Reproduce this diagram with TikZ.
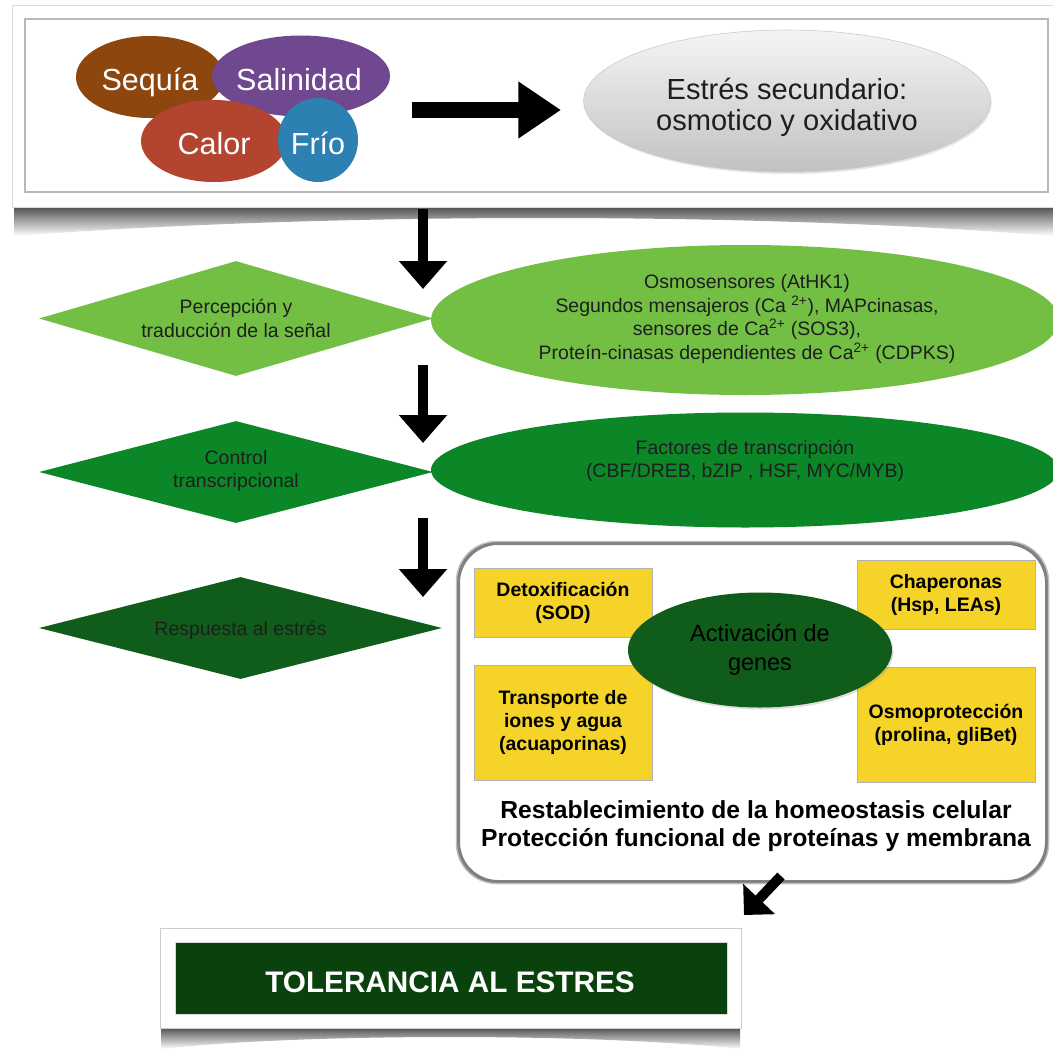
\documentclass[tikz,border=0pt]{standalone}
\usepackage{fontspec}
\setmainfont{Liberation Sans}
\usetikzlibrary{arrows.meta,shapes.geometric,shadows}

\definecolor{cSeq}{RGB}{141,70,14}
\definecolor{cSal}{RGB}{112,72,144}
\definecolor{cCal}{RGB}{178,68,48}
\definecolor{cFri}{RGB}{44,128,178}
\definecolor{gA}{RGB}{114,191,68}
\definecolor{gB}{RGB}{12,135,40}
\definecolor{gC}{RGB}{16,92,27}
\definecolor{gD}{RGB}{10,66,13}
\definecolor{yel}{RGB}{245,211,40}
\definecolor{txtd}{RGB}{30,30,30}

\newcommand{\fsz}[2]{\fontsize{#1}{#2}\selectfont}

\begin{document}
\begin{tikzpicture}[x=0.75pt,y=-0.75pt,
  bub/.style={ellipse, inner sep=0pt, fill=#1},
  btxt/.style={text=white, font=\fsz{22.9pt}{27pt}, inner sep=0pt, anchor=base},
  dia/.style={diamond, inner sep=0pt, fill=#1},
  dtxt/.style={align=center, inner sep=0pt, font=\fsz{14.6pt}{17.4pt}, text=txtd},
  ybox/.style={rectangle, fill=yel, draw=black!30, line width=0.5pt, inner sep=0pt,
    minimum width=133.5pt, align=center, font=\bfseries\fsz{14.6pt}{17.3pt},
    drop shadow={opacity=0.25,shadow xshift=1pt,shadow yshift=-1pt}},
  darr/.style={line width=7.5pt, -{Triangle[width=35pt,length=21pt]}},
]
\useasboundingbox (0,0) rectangle (1053,1049);
\fill[white] (0,0) rectangle (1053,1049);

% ---------- top box ----------
\shade[top color=black!70, bottom color=white]
  (14,206) -- (1053,206) -- (1053,236) .. controls (760,212) and (330,212) .. (14,236) -- cycle;
\node[draw=black!15, fill=white, inner sep=0pt, minimum width=786pt, minimum height=151.5pt] (outer) at (536,106) {};
\node[draw=black!28, line width=0.8pt, fill=white, inner sep=0pt, minimum width=767.25pt, minimum height=129.75pt] (inner) at (536.5,105.5) {};

\node[bub=cSeq, minimum width=111pt, minimum height=61.5pt] (seq) at (150,77) {};
\node[bub=cSal, minimum width=133.5pt, minimum height=60.75pt] (sal) at (301,76) {};
\node[bub=cCal, minimum width=109.5pt, minimum height=61.5pt] (cal) at (214,141) {};
\node[bub=cFri, minimum width=60pt, minimum height=63pt] (fri) at (318,140) {};
\node[btxt] (seqt) at (150,91) {Sequía};
\node[btxt] (salt) at (299,91) {Salinidad};
\node[btxt] (calt) at (214,154) {Calor};
\node[btxt] (frit) at (318,154) {Frío};

\node[ellipse, inner sep=0pt, minimum width=305pt, minimum height=106.5pt,
  top color=black!4, bottom color=black!24, draw=black!22, line width=0.4pt,
  drop shadow={opacity=0.2,shadow xshift=1pt,shadow yshift=-1.5pt}] (sec) at (787,101) {};
\node[align=center, inner sep=0pt, text=txtd, font=\fsz{21.8pt}{23.4pt}] (sect) at (787,107)
  {Estrés secundario:\\osmotico y oxidativo};

\coordinate (hs) at (412,110);
\coordinate (he) at (561,110);
\draw[line width=12pt, -{Triangle[width=40.5pt,length=32pt]}] (hs) -- (he);

% ---------- rows ----------
\node[dia=gA, minimum width=295.5pt, minimum height=86.25pt] (d1) at (236,318.5) {};
\node[dtxt] (d1t) at (236,318.5) {Percepción y\\traducción de la señal};
\node[ellipse, inner sep=0pt, fill=gA, minimum width=471pt, minimum height=112.5pt] (e1) at (745,320) {};
\node[dtxt, font=\fsz{14.6pt}{17.8pt}] (e1t) at (747,319) {Osmosensores (AtHK1)\\Segundos mensajeros (Ca \textsuperscript{2+}), MAPcinasas,\\sensores de Ca\textsuperscript{2+} (SOS3),\\Proteín-cinasas dependientes de Ca\textsuperscript{2+} (CDPKS)};

\node[dia=gB, minimum width=295.5pt, minimum height=76.5pt] (d2) at (236,472) {};
\node[dtxt] (d2t) at (236,471) {Control\\transcripcional};
\node[ellipse, inner sep=0pt, fill=gB, minimum width=471pt, minimum height=86.25pt] (e2) at (745,470) {};
\node[dtxt] (e2t) at (745,461) {Factores de transcripción\\(CBF/DREB, bZIP , HSF, MYC/MYB)};

\node[dia=gC, minimum width=302.25pt, minimum height=76.5pt] (d3) at (240.5,628) {};
\node[dtxt, anchor=base] (d3t) at (240.5,635) {Respuesta al estrés};

\coordinate (a1s) at (423,209);
\coordinate (a1e) at (423,289);
\coordinate (a2s) at (423,365);
\coordinate (a2e) at (423,443);
\coordinate (a3s) at (423,518);
\coordinate (a3e) at (423,597);
\draw[darr] (a1s) -- (a1e);
\draw[darr] (a2s) -- (a2e);
\draw[darr] (a3s) -- (a3e);

% ---------- response container ----------
\node[draw=black!50, line width=3pt, rounded corners=30pt, inner sep=0pt,
  minimum width=441.75pt, minimum height=254.25pt] (cont) at (752.5,712.5) {};
\node[draw=black!25, line width=1pt, rounded corners=30pt, inner sep=0pt,
  minimum width=444pt, minimum height=256.5pt] (cont2) at (752.5,712.5) {};

\node[ybox, minimum height=51.75pt] (det) at (563,602.5) {Detoxificación\\(SOD)};
\node[ybox, minimum height=51.75pt] (cha) at (946,594.5) {Chaperonas\\(Hsp, LEAs)};
\node[ybox, minimum height=86.25pt] (tra) at (563,722.5) {Transporte de\\iones y agua\\(acuaporinas)};
\node[ybox, minimum height=86.25pt] (osm) at (946,724.5) {Osmoprotección\\(prolina, gliBet)};

\node[ellipse, inner sep=0pt, fill=gC, minimum width=198pt, minimum height=86.25pt,
  drop shadow={opacity=0.25,shadow xshift=1pt,shadow yshift=-1.5pt}] (act) at (760,650) {};
\node[align=center, inner sep=0pt, text=black, font=\fsz{17.6pt}{21.8pt}] (actt) at (760,650) {Activación de\\genes};

\node[align=center, inner sep=0pt, text=black, font=\bfseries\fsz{18.5pt}{21pt}] (rest) at (756,826)
  {Restablecimiento de la homeostasis celular\\Protección funcional de proteínas y membrana};

\coordinate (ds) at (781,876);
\coordinate (de) at (744,915);
\draw[line width=7.5pt, -{Triangle[width=32pt,length=16.5pt]}] (ds) -- (de);

% ---------- bottom box ----------
\shade[top color=black!70, bottom color=white]
  (161,1027) -- (740,1027) -- (740,1049) .. controls (600,1033) and (300,1033) .. (161,1049) -- cycle;
\node[draw=black!20, fill=white, inner sep=0pt, minimum width=435.75pt, minimum height=75pt] (tolo) at (450.5,978) {};
\node[fill=gD, draw=black!15, inner sep=0pt, minimum width=414pt, minimum height=54pt] (tol) at (451,978) {};
\node[anchor=base, inner sep=0pt, text=white, font=\bfseries\fsz{22.3pt}{26pt}] (tolt) at (450,992) {TOLERANCIA AL ESTRES};
\end{tikzpicture}
\end{document}
